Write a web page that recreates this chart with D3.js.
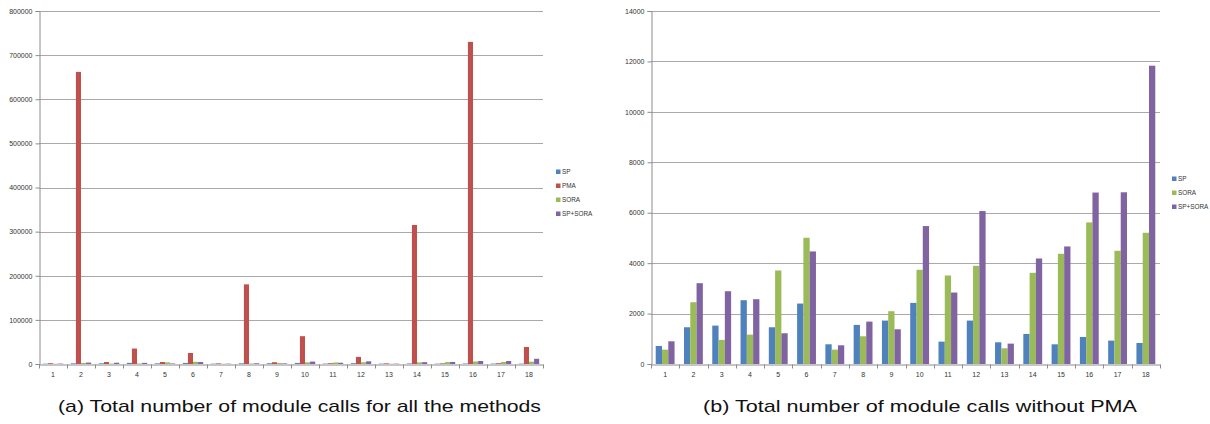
<!DOCTYPE html>
<html>
<head>
<meta charset="utf-8">
<script src="https://cdn.jsdelivr.net/npm/d3@7"></script>
<style>
  html, body { margin: 0; padding: 0; background: #fff; }
  svg { display: block; }
  .tick-label { font-family: "Liberation Sans", Arial, sans-serif; font-size: 7px; fill: #333; }
  .legend-label { font-family: "Liberation Sans", Arial, sans-serif; font-size: 6.4px; fill: #333; }
  .caption { font-family: "Liberation Sans", Arial, sans-serif; font-size: 17px; fill: #111; }
</style>
</head>
<body>
<svg id="chart" width="1210" height="424"></svg>
<script>
// Test problems 1..18
const categories = ["1","2","3","4","5","6","7","8","9","10","11","12","13","14","15","16","17","18"];

// Total number of module calls per method
const spCalls     = [715, 1457, 1523, 2530, 1457, 2397, 781, 1550, 1722, 2424, 887, 1722, 861, 1192, 781, 1073, 927, 834];
const pmaCalls    = [1800, 662000, 4500, 35000, 4500, 25000, 1500, 180500, 4000, 63000, 1800, 16000, 1500, 315000, 1500, 730000, 1800, 38500];
const soraCalls   = [570, 2450, 954, 1166, 3709, 5007, 570, 1100, 2093, 3735, 3510, 3894, 623, 3616, 4371, 5616, 4490, 5205];
const spSoraCalls = [900, 3205, 2887, 2570, 1219, 4464, 742, 1682, 1377, 5470, 2834, 6066, 808, 4185, 4662, 6800, 6810, 11830];

// Axis ticks
const ticksAll   = [0, 100000, 200000, 300000, 400000, 500000, 600000, 700000, 800000];
const ticksNoPma = [0, 2000, 4000, 6000, 8000, 10000, 12000, 14000];

const colors = { "SP": "#4f81bd", "PMA": "#c0504d", "SORA": "#9bbb59", "SP+SORA": "#8064a2" };

const svg = d3.select("#chart");

function drawPanel(cfg) {
  const g = svg.append("g");
  const { left, right, top, bottom } = cfg;

  const y = d3.scaleLinear().domain([0, d3.max(cfg.ticks)]).range([bottom, top]);
  const x0 = d3.scaleBand().domain(categories).range([left, right]).padding(0);
  const names = cfg.series.map(s => s.name);
  const x1 = d3.scaleBand().domain(names).range([0, x0.bandwidth()])
    .paddingInner(0).paddingOuter(0.75);

  // horizontal gridlines
  g.append("g").selectAll("line").data(cfg.ticks.filter(t => t > 0)).join("line")
    .attr("x1", left).attr("x2", right)
    .attr("y1", d => Math.round(y(d)) + 0.5).attr("y2", d => Math.round(y(d)) + 0.5)
    .attr("stroke", "#a9a9a9").attr("stroke-width", 1);

  // bars
  const rows = categories.map((c, i) => ({ c, vals: cfg.series.map(s => ({ name: s.name, v: s.values[i] })) }));
  g.append("g").selectAll("g").data(rows).join("g")
    .attr("transform", d => `translate(${x0(d.c)},0)`)
    .selectAll("rect").data(d => d.vals).join("rect")
      .attr("x", d => x1(d.name))
      .attr("width", x1.bandwidth())
      .attr("y", d => y(d.v))
      .attr("height", d => bottom - y(d.v))
      .attr("fill", d => colors[d.name]);

  // y axis
  const yAxis = d3.axisLeft(y).tickValues(cfg.ticks).tickSize(4).tickPadding(3).tickFormat(d3.format("d"));
  const ya = g.append("g").attr("transform", `translate(${left + 0.5},0)`).call(yAxis);
  ya.select(".domain").attr("stroke", "#8c8c8c");
  ya.selectAll(".tick line").attr("stroke", "#8c8c8c");
  ya.selectAll(".tick text").attr("class", "tick-label").attr("font-size", null).attr("font-family", null).attr("fill", null);

  // x axis with ticks at category boundaries
  const xa = g.append("g").attr("transform", `translate(0,${bottom + 0.5})`)
    .call(d3.axisBottom(x0).tickSize(0).tickPadding(8));
  xa.select(".domain").attr("stroke", "#8c8c8c");
  xa.selectAll(".tick text").attr("class", "tick-label").attr("font-size", null).attr("font-family", null).attr("fill", null);
  const bounds = categories.map(c => x0(c)).concat([x0(categories[categories.length - 1]) + x0.bandwidth()]);
  xa.append("g").selectAll("line").data(bounds).join("line")
    .attr("x1", d => Math.round(d) + 0.5).attr("x2", d => Math.round(d) + 0.5)
    .attr("y1", 0).attr("y2", 4).attr("stroke", "#8c8c8c");

  // legend
  const lg = g.append("g").attr("transform", `translate(${cfg.legendX},${cfg.legendY})`);
  const item = lg.selectAll("g").data(names).join("g")
    .attr("transform", (d, i) => `translate(0,${i * cfg.legendStep})`);
  item.append("rect").attr("x", 0).attr("y", -2.5).attr("width", 4.5).attr("height", 4.5)
    .attr("fill", d => colors[d]);
  item.append("text").attr("class", "legend-label").attr("x", 6).attr("y", 2.3).text(d => d);

  // caption
  svg.append("text").attr("class", "caption").attr("x", cfg.captionX).attr("y", 412)
    .attr("textLength", cfg.captionWidth).attr("lengthAdjust", "spacingAndGlyphs")
    .text(cfg.caption);
}

drawPanel({
  left: 39, right: 543, top: 11, bottom: 364,
  ticks: ticksAll,
  series: [
    { name: "SP", values: spCalls },
    { name: "PMA", values: pmaCalls },
    { name: "SORA", values: soraCalls },
    { name: "SP+SORA", values: spSoraCalls }
  ],
  legendX: 556, legendY: 172, legendStep: 14,
  captionX: 58, captionWidth: 483, caption: "(a)  Total number of module calls for all the methods"
});

drawPanel({
  left: 651, right: 1160, top: 11, bottom: 364,
  ticks: ticksNoPma,
  series: [
    { name: "SP", values: spCalls },
    { name: "SORA", values: soraCalls },
    { name: "SP+SORA", values: spSoraCalls }
  ],
  legendX: 1172, legendY: 179, legendStep: 14,
  captionX: 703, captionWidth: 434, caption: "(b)  Total number of module calls without PMA"
});
</script>
</body>
</html>
